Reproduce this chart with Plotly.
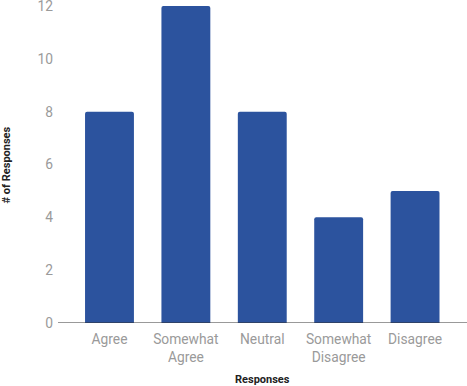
import plotly.graph_objects as go

categories = ["Agree", "Somewhat<br>Agree", "Neutral", "Somewhat<br>Disagree", "Disagree"]
responses = [8, 12, 8, 4, 5]
y_ticks = [0, 2, 4, 6, 8, 10, 12]

fig = go.Figure(go.Bar(
    x=list(range(len(categories))), y=responses,
    marker=dict(color="#2c539e", cornerradius=2, line=dict(width=0)),
    width=0.64,
))
fig.update_layout(
    width=467, height=386,
    margin=dict(l=58, r=0, t=6, b=63),
    paper_bgcolor="white", plot_bgcolor="white",
    font=dict(family="Roboto", size=13, color="#999999"),
    showlegend=False,
)
fig.update_xaxes(
    tickmode="array", tickvals=list(range(len(categories))), ticktext=categories,
    range=[-0.674, 4.68], showgrid=False, showline=False, zeroline=False,
    ticks="", tickfont=dict(size=13.8, color="#9a9a9a"), automargin=False,
    ticklabelstandoff=6,
)
fig.update_yaxes(
    range=[0, 12], tickvals=y_ticks, showgrid=False, zeroline=False,
    showline=False, ticks="", tickfont=dict(size=13.8, color="#9a9a9a"),
    automargin=False, ticklabeloverflow="allow", ticklabelstandoff=4,
)
fig.add_hline(y=0, line=dict(color="#333333", width=1))
fig.add_annotation(text="<b>Responses</b>", x=0.5, xref="paper", y=-0.177, yref="paper",
                   yanchor="middle", showarrow=False, font=dict(size=11, color="#222222"))
fig.add_annotation(text="<b># of Responses</b>", x=-0.125, xref="paper", y=0.5, yref="paper",
                   textangle=-90, showarrow=False, font=dict(size=11, color="#222222"),
                   xanchor="center", yanchor="middle")
fig.write_html("out.html", config={"displayModeBar": False},
               post_script="document.body.style.margin='0';")
